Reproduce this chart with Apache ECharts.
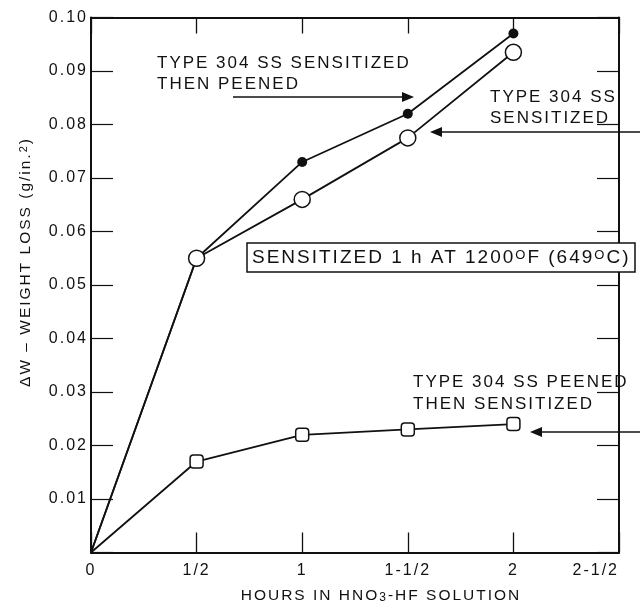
<!DOCTYPE html>
<html><head><meta charset="utf-8">
<script src="https://cdn.jsdelivr.net/npm/echarts/dist/echarts.min.js"></script>
<style>html,body{margin:0;padding:0;background:#fff}#chart{width:640px;height:606px}</style>
</head><body><div id="chart"></div>
<script>
// ---- data ----
const hours = [0, 0.5, 1, 1.5, 2];
const sensitizedThenPeened = [0, 0.055, 0.073, 0.082, 0.097];
const sensitizedOnly = [0, 0.055, 0.066, 0.0775, 0.0935];
const peenedThenSensitized = [0, 0.017, 0.022, 0.023, 0.024];
const xTickLabels = ['0', '1/2', '1', '1-1/2', '2', '2-1/2'];
const yTickLabels = ['', '0.01', '0.02', '0.03', '0.04', '0.05', '0.06', '0.07', '0.08', '0.09', '0.10'];

// wide letter spacing like the original lettering
const LS = '2px';
const P = CanvasRenderingContext2D.prototype;
const oFill = P.fillText, oStroke = P.strokeText, oMeasure = P.measureText;
P.fillText = function () { this.letterSpacing = LS; return oFill.apply(this, arguments); };
P.strokeText = function () { this.letterSpacing = LS; return oStroke.apply(this, arguments); };
P.measureText = function () { this.letterSpacing = LS; return oMeasure.apply(this, arguments); };

const FF = '"Liberation Sans", Arial, sans-serif';
const INK = '#111';

const chart = echarts.init(document.getElementById('chart'), null, { renderer: 'canvas' });

const axisLine = { show: true, onZero: false, lineStyle: { color: INK, width: 2 } };
function pts(vals, symFn) {
  return hours.map((h, i) => ({ value: [h, vals[i]], symbol: symFn(i) }));
}
const markerStyle = { color: '#fff', borderColor: INK, borderWidth: 1.5 };

function txt(x, y, text, size, lh, extra) {
  return Object.assign({
    type: 'text', x: x, y: y, z: 110,
    style: {
      text: text, fill: INK, fontSize: size, fontFamily: FF, lineHeight: lh,
      align: 'left', verticalAlign: 'top', textAlign: 'left', textVerticalAlign: 'top'
    }
  }, extra || {});
}
function arrow(xTip, y, xEnd, dir) {
  const b = xTip - dir * 12;
  return [
    { type: 'line', z: 110, shape: { x1: b, y1: y, x2: xEnd, y2: y }, style: { stroke: INK, lineWidth: 1.3 } },
    { type: 'polygon', z: 110, shape: { points: [[xTip, y], [b, y - 5], [b, y + 5]] }, style: { fill: INK } }
  ];
}

const option = {
  animation: false,
  backgroundColor: '#fff',
  grid: { left: 91, right: 21, top: 17.5, bottom: 53.5, containLabel: false },
  xAxis: [
    {
      type: 'value', min: 0, max: 2.5, interval: 0.5, position: 'bottom',
      axisLine: axisLine,
      axisTick: { show: true, inside: true, length: 20, lineStyle: { color: INK, width: 1.3 } },
      axisLabel: {
        formatter: v => xTickLabels[Math.round(v * 2)] || '', color: INK,
        fontSize: 16, fontFamily: FF, margin: 9, alignMaxLabel: 'right'
      },
      splitLine: { show: false }
    },
    {
      type: 'value', min: 0, max: 2.5, interval: 0.5, position: 'top',
      axisLine: axisLine,
      axisTick: { show: true, inside: true, length: 16, lineStyle: { color: INK, width: 1.3 } },
      axisLabel: { show: false }, splitLine: { show: false }
    }
  ],
  yAxis: [
    {
      type: 'value', min: 0, max: 0.1, interval: 0.01, position: 'left',
      axisLine: axisLine,
      axisTick: { show: true, inside: true, length: 22, lineStyle: { color: INK, width: 1.2 } },
      axisLabel: {
        formatter: v => yTickLabels[Math.round(v * 100)] || '', color: INK,
        fontSize: 16, fontFamily: FF, margin: 3
      },
      splitLine: { show: false }
    },
    {
      type: 'value', min: 0, max: 0.1, interval: 0.01, position: 'right',
      axisLine: axisLine,
      axisTick: { show: true, inside: true, length: 22, lineStyle: { color: INK, width: 1.2 } },
      axisLabel: { show: false }, splitLine: { show: false }
    }
  ],
  series: [
    {
      name: 'Type 304 SS sensitized then peened', type: 'line', z: 3,
      data: pts(sensitizedThenPeened, i => (i < 2 ? 'none' : 'circle')),
      symbolSize: 10, itemStyle: { color: INK }, lineStyle: { color: INK, width: 1.8 },
      emphasis: { disabled: true }
    },
    {
      name: 'Type 304 SS sensitized', type: 'line', z: 4,
      data: pts(sensitizedOnly, i => (i < 1 ? 'none' : 'circle')),
      symbolSize: 16, itemStyle: markerStyle, lineStyle: { color: INK, width: 1.8 },
      emphasis: { disabled: true }
    },
    {
      name: 'Type 304 SS peened then sensitized', type: 'line', z: 4,
      data: pts(peenedThenSensitized, i => (i < 1 ? 'none' : 'roundRect')),
      symbolSize: 13, itemStyle: markerStyle, lineStyle: { color: INK, width: 1.8 },
      emphasis: { disabled: true }
    }
  ],
  graphic: [
    txt(157, 53, 'TYPE 304 SS SENSITIZED\nTHEN PEENED', 17, 21),
    ...arrow(414, 97, 233, 1),
    txt(490, 87, 'TYPE 304 SS\nSENSITIZED', 17, 21),
    ...arrow(430, 132, 640, -1),
    {
      type: 'rect', z: 105, shape: { x: 247, y: 243, width: 388, height: 29 },
      style: { fill: '#fff', stroke: INK, lineWidth: 1.5 }
    },
    {
      type: 'text', x: 252, y: 258, z: 110,
      style: {
        text: '{n|SENSITIZED 1 h AT 1200}{s|O}{n|F (649}{s|O}{n|C)}',
        fill: INK, fontFamily: FF,
        align: 'left', verticalAlign: 'middle', textAlign: 'left', textVerticalAlign: 'middle',
        rich: {
          n: { fontSize: 19, fontFamily: FF, lineHeight: 21, color: INK },
          s: { fontSize: 13, fontFamily: FF, lineHeight: 9, verticalAlign: 'top', color: INK }
        }
      }
    },
    txt(413, 371, 'TYPE 304 SS PEENED\nTHEN SENSITIZED', 17, 22),
    ...arrow(530, 432, 640, -1),
    {
      type: 'text', x: 381, y: 596, z: 110,
      style: {
        text: '{n|HOURS IN HNO}{b|3}{n|-HF SOLUTION}',
        fill: INK, fontFamily: FF,
        align: 'center', verticalAlign: 'middle', textAlign: 'center', textVerticalAlign: 'middle',
        rich: {
          n: { fontSize: 15.5, fontFamily: FF, lineHeight: 18, color: INK },
          b: { fontSize: 12, fontFamily: FF, lineHeight: 8, verticalAlign: 'bottom', color: INK }
        }
      }
    },
    {
      type: 'text', x: 26, y: 262, z: 110, rotation: Math.PI / 2,
      style: {
        text: '{n|ΔW – WEIGHT LOSS (g/in.}{s|2}{n|)}',
        fill: INK, fontFamily: FF,
        align: 'center', verticalAlign: 'middle', textAlign: 'center', textVerticalAlign: 'middle',
        rich: {
          n: { fontSize: 15.5, fontFamily: FF, lineHeight: 18, color: INK },
          s: { fontSize: 11, fontFamily: FF, lineHeight: 8, verticalAlign: 'top', color: INK }
        }
      }
    }
  ]
};
chart.setOption(option);
</script>
</body></html>
